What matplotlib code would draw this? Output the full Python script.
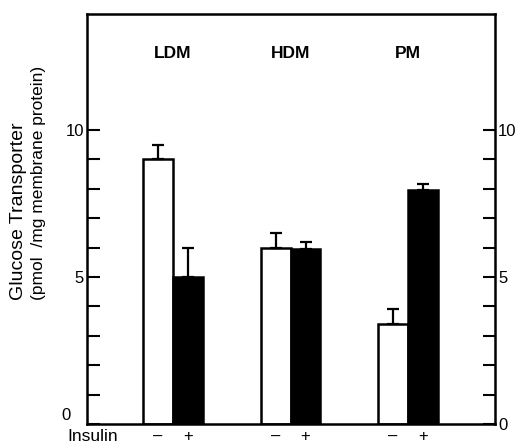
import numpy as np
import matplotlib
matplotlib.use('Agg')
import matplotlib.pyplot as plt

plt.rcParams['font.family'] = ['Liberation Sans', 'DejaVu Sans']

# Data
fractions = ['LDM', 'HDM', 'PM']
basal = [9.0, 6.0, 3.4]          # insulin -
basal_err = [0.5, 0.5, 0.5]
insulin = [5.0, 5.95, 7.95]      # insulin +
insulin_err = [1.0, 0.25, 0.2]
ytick_labels = ['0', '5', '10']

x = np.arange(1, len(fractions) + 1)
w = 0.255

fig = plt.figure(figsize=(5.18, 4.45), dpi=100)
ax = fig.add_axes([87 / 518, 21 / 445, 408 / 518, 410 / 445])

ax.bar(x - w / 2, basal, w, color='white', edgecolor='black', linewidth=1.8)
ax.bar(x + w / 2, insulin, w, color='black', edgecolor='black', linewidth=1.8)
ax.errorbar(x - w / 2, basal, yerr=[np.zeros(3), basal_err], fmt='none',
            ecolor='black', elinewidth=1.6, capsize=4.5, capthick=1.6)
ax.errorbar(x + w / 2, insulin, yerr=[np.zeros(3), insulin_err], fmt='none',
            ecolor='black', elinewidth=1.6, capsize=4.5, capthick=1.6)

ax.set_xlim(0.268, 3.74)
ax.set_ylim(0, 13.95)
for s in ax.spines.values():
    s.set_linewidth(1.8)

ax.set_yticks([0, 5, 10])
ax.set_yticklabels(ytick_labels)
ax.set_yticks(np.arange(1, 10), minor=True)
ax.tick_params(axis='y', which='both', direction='in', length=9, width=1.5,
               left=True, right=True, labelleft=True, labelright=True,
               labelsize=12)
ax.tick_params(axis='y', which='major', pad=2.3)
# the left "0" sits a little higher and further left than the others
ax.yaxis.get_major_ticks()[0].label1.set_visible(False)
ax.text(-0.04, 0.3, ytick_labels[0], transform=ax.get_yaxis_transform(),
        ha='right', va='center', fontsize=12)
ax.set_xticks([])

y_row = -0.578
for xi, name in zip(x, fractions):
    ax.text(xi, 12.6, name, ha='center', va='center', fontsize=12.5,
            fontweight='bold')
    ax.text(xi - w / 2, y_row, '–', ha='center', va='baseline', fontsize=12,
            clip_on=False)
    ax.text(xi + w / 2, y_row, '+', ha='center', va='baseline', fontsize=12,
            clip_on=False)

ax.text(0.315, y_row, 'Insulin', ha='center', va='baseline', fontsize=12.5,
        clip_on=False)

fig.text(19 / 518, 1 - 300 / 445, 'Glucose Transporter',
         rotation=90, ha='center', va='bottom', fontsize=14)
fig.text(39 / 518, 1 - 300 / 445, '(pmol  /mg membrane protein)',
         rotation=90, ha='center', va='bottom', fontsize=12.5)

fig.savefig('out.png', dpi=100)
